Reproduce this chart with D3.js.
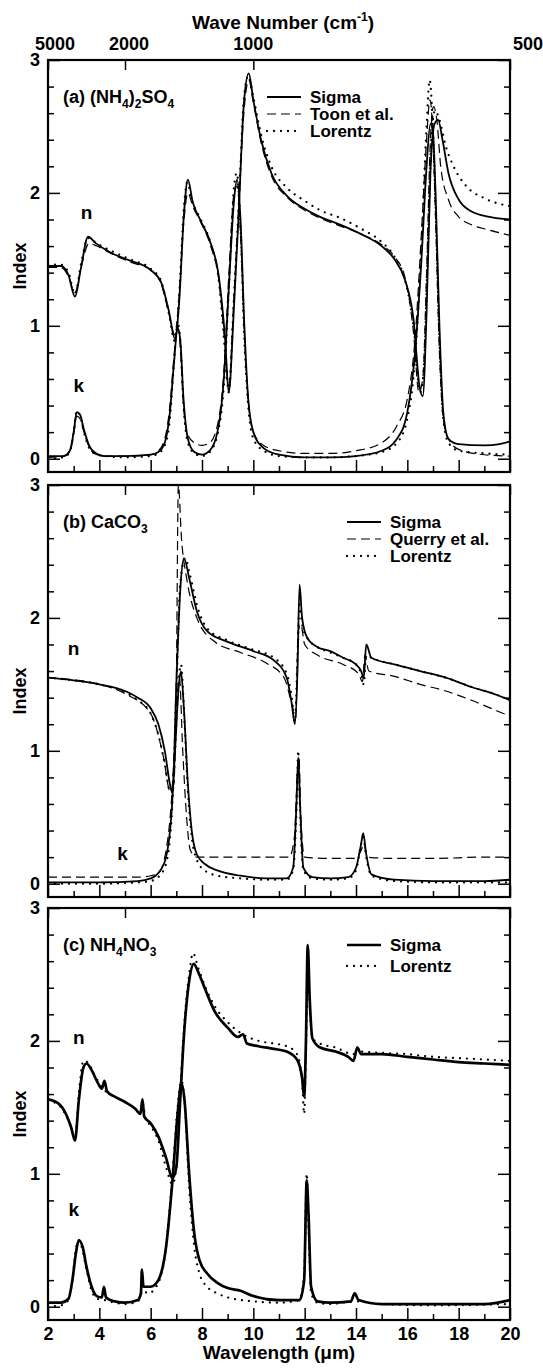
<!DOCTYPE html>
<html>
<head>
<meta charset="utf-8">
<script src="https://cdn.jsdelivr.net/npm/d3@7"></script>
<style>
  body { margin: 0; background: #fff; }
  text { font-family: "Liberation Sans", Arial, Helvetica, sans-serif; font-weight: bold; fill: #000; }
</style>
</head>
<body>
<svg id="chart" width="543" height="1369"></svg>
<script>
// ---- data: [wavelength (um), index] ----

// (a) (NH4)2SO4
var sulfSigmaN = [[2,1.45],[2.5,1.45],[2.8,1.38],[3.05,1.22],[3.28,1.43],[3.56,1.67],[3.87,1.62],[4.45,1.55],[5.2,1.49],[6,1.42],[6.4,1.33],[6.7,1.12],[6.95,0.9],[7.1,1.15],[7.3,1.85],[7.45,2.1],[7.64,1.93],[7.95,1.79],[8.34,1.62],[8.65,1.38],[8.9,0.9],[9.04,0.5],[9.24,1.12],[9.43,1.85],[9.63,2.67],[9.82,2.9],[10,2.7],[10.3,2.4],[10.7,2.15],[11.3,1.98],[12,1.88],[12.6,1.82],[13.4,1.76],[14.2,1.69],[15,1.6],[15.5,1.5],[15.9,1.35],[16.24,1.05],[16.47,0.55],[16.6,0.47],[16.75,1.1],[16.9,2.15],[17.06,2.52],[17.2,2.55],[17.37,2.4],[17.6,2.15],[18,1.95],[18.5,1.86],[19.2,1.82],[20,1.8]];
var sulfToonN = [[2,1.44],[2.5,1.44],[2.8,1.37],[3.05,1.25],[3.3,1.45],[3.6,1.62],[3.9,1.6],[4.5,1.54],[5.2,1.48],[6,1.42],[6.4,1.32],[6.7,1.1],[6.95,0.93],[7.1,1.2],[7.3,1.8],[7.45,2.0],[7.64,1.9],[7.95,1.78],[8.34,1.6],[8.65,1.35],[8.9,0.85],[9.04,0.55],[9.24,1.2],[9.43,1.9],[9.63,2.6],[9.82,2.85],[10,2.68],[10.3,2.38],[10.7,2.13],[11.3,1.97],[12,1.87],[12.6,1.81],[13.4,1.75],[14.2,1.69],[15,1.61],[15.5,1.52],[15.9,1.37],[16.24,0.95],[16.45,0.5],[16.6,0.6],[16.75,1.4],[16.9,2.4],[17.02,2.65],[17.15,2.55],[17.3,2.2],[17.6,1.95],[18,1.82],[18.5,1.76],[19.2,1.72],[20,1.68]];
var sulfLorentzN = [[2,1.46],[2.5,1.46],[2.8,1.4],[3.05,1.24],[3.3,1.48],[3.56,1.66],[3.9,1.62],[4.5,1.56],[5.2,1.5],[6,1.43],[6.4,1.34],[6.7,1.1],[6.95,0.88],[7.1,1.2],[7.3,1.9],[7.42,2.08],[7.6,1.95],[7.95,1.8],[8.34,1.62],[8.65,1.35],[8.9,0.8],[9.04,0.5],[9.24,1.2],[9.43,1.9],[9.63,2.7],[9.8,2.88],[10,2.72],[10.3,2.44],[10.7,2.2],[11.3,2.04],[12,1.94],[12.6,1.87],[13.4,1.81],[14.2,1.73],[15,1.63],[15.5,1.52],[15.9,1.35],[16.24,1.0],[16.5,0.5],[16.65,0.7],[16.8,1.6],[16.95,2.45],[17.08,2.62],[17.25,2.55],[17.5,2.35],[17.8,2.2],[18.3,2.05],[19,1.96],[20,1.9]];
var sulfSigmaK = [[2,0.02],[2.6,0.02],[2.85,0.06],[3,0.2],[3.12,0.35],[3.25,0.33],[3.4,0.22],[3.6,0.1],[3.8,0.05],[4.2,0.02],[5,0.02],[6,0.03],[6.3,0.05],[6.55,0.12],[6.75,0.35],[6.9,0.7],[7.05,0.98],[7.15,0.9],[7.28,0.45],[7.45,0.15],[7.7,0.05],[8,0.03],[8.3,0.06],[8.6,0.2],[8.85,0.6],[9.05,1.3],[9.25,1.95],[9.37,2.1],[9.5,1.8],[9.65,1.0],[9.8,0.45],[10,0.2],[10.4,0.08],[11,0.03],[12,0.01],[13,0.01],[14,0.02],[15,0.06],[15.6,0.15],[16,0.35],[16.3,0.8],[16.55,1.5],[16.75,2.2],[16.9,2.52],[17,2.45],[17.1,2.0],[17.25,1.0],[17.4,0.35],[17.6,0.15],[18,0.11],[19,0.1],[19.6,0.11],[20,0.13]];
var sulfToonK = [[2,0.01],[2.6,0.02],[2.85,0.05],[3,0.18],[3.12,0.32],[3.25,0.3],[3.4,0.2],[3.6,0.09],[3.8,0.04],[4.2,0.02],[5,0.02],[6,0.03],[6.3,0.06],[6.55,0.15],[6.75,0.4],[6.9,0.75],[7.05,1.0],[7.15,0.85],[7.28,0.4],[7.45,0.18],[7.7,0.12],[8,0.1],[8.3,0.12],[8.6,0.25],[8.85,0.65],[9.05,1.4],[9.25,2.0],[9.37,2.05],[9.5,1.7],[9.65,0.95],[9.8,0.45],[10,0.2],[10.4,0.1],[11,0.06],[12,0.04],[13,0.04],[14,0.06],[15,0.12],[15.6,0.25],[16,0.45],[16.3,0.9],[16.55,1.7],[16.75,2.4],[16.88,2.7],[16.98,2.5],[17.1,1.8],[17.25,0.8],[17.4,0.3],[17.6,0.15],[18,0.07],[19,0.03],[20,0.02]];
var sulfLorentzK = [[2,0],[2.6,0.01],[2.85,0.05],[3,0.2],[3.12,0.36],[3.25,0.32],[3.4,0.2],[3.6,0.08],[3.8,0.04],[4.2,0.02],[5,0.01],[6,0.02],[6.3,0.04],[6.55,0.1],[6.75,0.3],[6.9,0.7],[7.05,1.02],[7.15,0.9],[7.28,0.4],[7.45,0.12],[7.7,0.04],[8,0.02],[8.3,0.05],[8.6,0.18],[8.85,0.55],[9.05,1.3],[9.25,2.05],[9.35,2.15],[9.5,1.75],[9.65,0.9],[9.8,0.4],[10,0.15],[10.4,0.06],[11,0.02],[12,0.01],[13,0.01],[14,0.02],[15,0.05],[15.6,0.12],[16,0.3],[16.3,0.75],[16.55,1.6],[16.75,2.5],[16.87,2.85],[16.97,2.6],[17.1,1.9],[17.25,0.9],[17.4,0.3],[17.6,0.12],[18,0.06],[19,0.04],[20,0.03]];

// (b) CaCO3
var carbSigmaN = [[2,1.55],[3,1.53],[4,1.5],[5,1.45],[5.5,1.4],[6,1.32],[6.3,1.2],[6.55,1.0],[6.75,0.75],[6.85,0.68],[7,1.5],[7.15,2.2],[7.3,2.45],[7.5,2.3],[7.8,2.05],[8.2,1.9],[9,1.82],[10,1.75],[10.8,1.68],[11.3,1.55],[11.5,1.35],[11.62,1.2],[11.72,1.6],[11.8,2.25],[11.9,2.0],[12.1,1.85],[12.5,1.78],[13,1.75],[13.5,1.7],[14,1.65],[14.2,1.6],[14.3,1.55],[14.4,1.8],[14.6,1.7],[15.5,1.65],[16.5,1.6],[17.5,1.55],[18.5,1.48],[19.5,1.42],[20,1.38]];
var carbQuerryN = [[2,1.55],[4,1.5],[5,1.43],[6,1.28],[6.5,0.95],[6.75,0.7],[6.9,0.75],[7,1.5],[7.08,3.0],[7.2,2.6],[7.4,2.3],[7.8,2.0],[8.5,1.82],[9.5,1.74],[10.5,1.66],[11.2,1.55],[11.5,1.35],[11.65,1.25],[11.75,1.9],[11.85,1.95],[12,1.8],[12.5,1.72],[13.5,1.65],[14.1,1.58],[14.25,1.52],[14.35,1.72],[14.5,1.6],[15.5,1.56],[16.5,1.5],[17.5,1.45],[18.5,1.38],[19.5,1.3],[20,1.26]];
var carbLorentzN = [[2,1.55],[3,1.53],[4,1.5],[5,1.44],[5.5,1.38],[6,1.28],[6.3,1.12],[6.55,0.9],[6.75,0.7],[6.85,0.7],[7,1.45],[7.15,2.25],[7.35,2.45],[7.5,2.35],[7.8,2.1],[8.2,1.92],[9,1.83],[10,1.76],[10.8,1.7],[11.3,1.58],[11.5,1.4],[11.62,1.22],[11.72,1.7],[11.8,2.1],[11.9,1.95],[12.1,1.85],[12.5,1.78],[13,1.74],[13.5,1.7],[14,1.65],[14.2,1.58],[14.3,1.5],[14.4,1.72],[14.6,1.7],[15.5,1.65],[16.5,1.6],[17.5,1.55],[18.5,1.48],[19.5,1.42],[20,1.38]];
var carbSigmaK = [[2,0.01],[4,0.01],[5.5,0.02],[6,0.04],[6.3,0.08],[6.6,0.2],[6.8,0.5],[6.95,1.0],[7.1,1.5],[7.18,1.6],[7.3,1.3],[7.45,0.75],[7.6,0.4],[7.8,0.22],[8.1,0.15],[8.6,0.1],[9.5,0.06],[10.5,0.04],[11.3,0.04],[11.55,0.12],[11.68,0.6],[11.75,0.95],[11.82,0.6],[11.95,0.12],[12.3,0.05],[13,0.04],[13.7,0.05],[14.0,0.12],[14.2,0.3],[14.28,0.38],[14.4,0.22],[14.6,0.07],[15.5,0.03],[17,0.02],[19,0.02],[20,0.03]];
var carbQuerryK = [[2,0.05],[4,0.05],[5.5,0.05],[6,0.06],[6.3,0.08],[6.6,0.25],[6.8,0.6],[6.95,1.1],[7.05,1.45],[7.12,1.55],[7.25,1.0],[7.4,0.5],[7.55,0.25],[7.8,0.2],[8.5,0.2],[9.5,0.2],[10.5,0.2],[11.4,0.2],[11.6,0.35],[11.72,0.85],[11.78,0.95],[11.85,0.5],[12,0.2],[13,0.19],[13.9,0.19],[14.2,0.25],[14.3,0.3],[14.45,0.2],[15.5,0.19],[17,0.19],[19,0.2],[20,0.2]];
var carbLorentzK = [[2,0],[4,0],[5.5,0.01],[6,0.02],[6.3,0.05],[6.6,0.15],[6.8,0.45],[6.95,1.0],[7.1,1.55],[7.18,1.65],[7.3,1.3],[7.45,0.7],[7.6,0.35],[7.8,0.18],[8.1,0.1],[8.6,0.06],[9.5,0.04],[10.5,0.03],[11.3,0.03],[11.55,0.1],[11.68,0.55],[11.75,1.0],[11.82,0.55],[11.95,0.1],[12.3,0.04],[13,0.03],[13.7,0.04],[14.0,0.1],[14.2,0.3],[14.28,0.35],[14.4,0.2],[14.6,0.06],[15.5,0.02],[17,0.01],[20,0.01]];

// (c) NH4NO3
var nitrSigmaN = [[2,1.56],[2.4,1.53],[2.7,1.45],[2.9,1.35],[3.05,1.25],[3.2,1.55],[3.38,1.8],[3.5,1.83],[3.7,1.78],[3.9,1.7],[4.1,1.64],[4.2,1.7],[4.3,1.62],[4.6,1.58],[5,1.54],[5.4,1.49],[5.6,1.45],[5.68,1.56],[5.75,1.43],[6,1.38],[6.3,1.28],[6.6,1.12],[6.85,0.97],[7,1.05],[7.15,1.55],[7.3,2.05],[7.5,2.45],[7.68,2.58],[7.85,2.52],[8.1,2.4],[8.5,2.22],[9,2.1],[9.4,2.03],[9.6,2.05],[9.75,1.98],[10.2,1.96],[10.8,1.94],[11.3,1.92],[11.7,1.86],[11.9,1.72],[11.98,1.58],[12.05,2.0],[12.12,2.72],[12.2,2.3],[12.3,2.02],[12.6,1.95],[13.2,1.92],[13.7,1.88],[13.9,1.85],[14.05,1.95],[14.2,1.9],[15,1.9],[16,1.88],[17,1.86],[18,1.84],[19,1.83],[20,1.82]];
var nitrLorentzN = [[2,1.55],[2.4,1.52],[2.7,1.44],[2.9,1.35],[3.05,1.26],[3.2,1.6],[3.38,1.85],[3.55,1.84],[3.8,1.75],[4.1,1.65],[4.6,1.58],[5,1.54],[5.4,1.49],[5.6,1.46],[5.7,1.52],[5.8,1.42],[6,1.36],[6.3,1.25],[6.6,1.05],[6.85,0.92],[7,1.05],[7.15,1.6],[7.3,2.1],[7.5,2.5],[7.65,2.66],[7.85,2.55],[8.1,2.42],[8.5,2.26],[9,2.14],[9.5,2.06],[10.2,2.0],[10.8,1.98],[11.3,1.96],[11.7,1.9],[11.9,1.7],[11.98,1.45],[12.05,1.9],[12.12,2.6],[12.2,2.25],[12.3,2.02],[12.6,1.98],[13.2,1.95],[13.9,1.9],[14.05,1.95],[14.2,1.92],[15,1.91],[16,1.9],[17,1.88],[18,1.87],[19,1.86],[20,1.85]];
var nitrSigmaK = [[2,0.03],[2.5,0.03],[2.8,0.06],[2.95,0.2],[3.1,0.42],[3.2,0.5],[3.35,0.45],[3.5,0.3],[3.7,0.15],[3.9,0.08],[4.1,0.07],[4.18,0.15],[4.26,0.07],[4.6,0.04],[5,0.03],[5.5,0.05],[5.62,0.1],[5.66,0.28],[5.72,0.15],[6,0.15],[6.3,0.2],[6.6,0.45],[6.85,0.95],[7.05,1.45],[7.2,1.68],[7.32,1.55],[7.5,1.0],[7.7,0.55],[7.9,0.35],[8.2,0.25],[8.6,0.18],[9,0.14],[9.5,0.12],[10,0.08],[11,0.05],[11.8,0.05],[11.98,0.2],[12.08,0.95],[12.15,0.7],[12.25,0.15],[12.5,0.04],[13,0.03],[13.8,0.04],[13.95,0.1],[14.1,0.05],[15,0.02],[17,0.02],[19,0.02],[20,0.05]];
var nitrLorentzK = [[2,0],[2.5,0.01],[2.8,0.05],[2.95,0.2],[3.1,0.45],[3.2,0.5],[3.35,0.42],[3.5,0.28],[3.7,0.12],[3.9,0.06],[4.2,0.05],[4.6,0.03],[5,0.02],[5.5,0.04],[5.7,0.12],[5.9,0.1],[6.3,0.18],[6.6,0.45],[6.85,1.0],[7.05,1.5],[7.2,1.7],[7.32,1.55],[7.5,0.9],[7.7,0.45],[7.9,0.25],[8.2,0.15],[8.6,0.1],[9,0.07],[9.5,0.05],[10,0.04],[11,0.03],[11.8,0.05],[11.98,0.25],[12.08,1.0],[12.15,0.6],[12.25,0.1],[12.5,0.03],[13,0.02],[14,0.04],[15,0.02],[17,0.01],[20,0.02]];

// axis ticks
var wavelengthTicks = [2, 4, 6, 8, 10, 12, 14, 16, 18, 20];
var wavelengthMinor = [3, 5, 7, 9, 11, 13, 15, 17, 19];
var waveNumbers = [5000, 2000, 1000, 500];
var indexTicks = [0, 1, 2, 3];
var indexMinor = [0.2, 0.4, 0.6, 0.8, 1.2, 1.4, 1.6, 1.8, 2.2, 2.4, 2.6, 2.8];

// panel labels & n/k labels [text, wavelength, index]
var panelNames = [["(a) (NH", "4", ")", "2", "SO", "4"], ["(b) CaCO", "3"], ["(c) NH", "4", "NO", "3"]];
var nkLabels = [
  [["n", 3.5, 1.8], ["k", 3.2, 0.5]],
  [["n", 3.0, 1.72], ["k", 4.9, 0.18]],
  [["n", 3.2, 1.98], ["k", 3.0, 0.68]]
];

var styles = {
  sigma:   { dash: null,  width: 1.8, cap: "butt" },
  sigmaC:  { dash: null,  width: 2.7, cap: "butt" },
  dashed:  { dash: "9,5", width: 1.2, cap: "butt" },
  dotted:  { dash: "0,7", width: 2.3, cap: "round" }
};

var panels = [
  { top: 60,  legendX: 267, series: [
      { name: "Sigma", n: sulfSigmaN, k: sulfSigmaK, style: "sigma" },
      { name: "Toon et al.", n: sulfToonN, k: sulfToonK, style: "dashed" },
      { name: "Lorentz", n: sulfLorentzN, k: sulfLorentzK, style: "dotted" }] },
  { top: 485, legendX: 347, series: [
      { name: "Sigma", n: carbSigmaN, k: carbSigmaK, style: "sigma" },
      { name: "Querry et al.", n: carbQuerryN, k: carbQuerryK, style: "dashed" },
      { name: "Lorentz", n: carbLorentzN, k: carbLorentzK, style: "dotted" }] },
  { top: 908, legendX: 347, legendGap: 21, series: [
      { name: "Sigma", n: nitrSigmaN, k: nitrSigmaK, style: "sigmaC" },
      { name: "Lorentz", n: nitrLorentzN, k: nitrLorentzK, style: "dotted" }] }
];

var svg = d3.select("#chart");
var left = 48, right = 510, panelH = 412;
var x = d3.scaleLinear().domain([2, 20]).range([left, right]);

function applyStyle(sel, st) {
  sel.attr("fill", "none").attr("stroke", "#000")
    .attr("stroke-width", st.width)
    .attr("stroke-linecap", st.cap)
    .attr("stroke-dasharray", st.dash);
}

panels.forEach(function(p, pi) {
  var y = d3.scaleLinear().domain([-0.1, 3]).range([p.top + panelH, p.top]);
  var g = svg.append("g");

  g.append("clipPath").attr("id", "clip" + pi)
    .append("rect").attr("x", left).attr("y", p.top)
    .attr("width", right - left).attr("height", panelH);

  var line = d3.line()
    .x(function(d) { return x(d[0]); })
    .y(function(d) { return y(d[1]); })
    .curve(d3.curveMonotoneX);

  var plot = g.append("g").attr("clip-path", "url(#clip" + pi + ")");
  p.series.slice().reverse().forEach(function(s) {
    [s.n, s.k].forEach(function(arr) {
      plot.append("path").attr("d", line(arr)).call(applyStyle, styles[s.style]);
    });
  });

  // axes (ticks point inward)
  g.append("g").attr("transform", "translate(" + left + ",0)")
    .call(d3.axisLeft(y).tickValues(indexTicks).tickSizeInner(-12).tickSizeOuter(0).tickPadding(8).tickFormat(d3.format("d")));
  g.append("g").attr("transform", "translate(" + left + ",0)")
    .call(d3.axisLeft(y).tickValues(indexMinor).tickSizeInner(-6).tickSizeOuter(0).tickFormat(""));
  g.append("g").attr("transform", "translate(" + right + ",0)")
    .call(d3.axisRight(y).tickValues(indexTicks).tickSizeInner(-12).tickSizeOuter(0).tickFormat(""));
  g.append("g").attr("transform", "translate(" + right + ",0)")
    .call(d3.axisRight(y).tickValues(indexMinor).tickSizeInner(-6).tickSizeOuter(0).tickFormat(""));
  var yb = p.top + panelH;
  g.append("g").attr("transform", "translate(0," + yb + ")")
    .call(d3.axisBottom(x).tickValues(wavelengthTicks).tickSizeInner(-12).tickSizeOuter(0).tickPadding(7)
      .tickFormat(pi === 2 ? d3.format("d") : ""));
  g.append("g").attr("transform", "translate(0," + yb + ")")
    .call(d3.axisBottom(x).tickValues(wavelengthMinor).tickSizeInner(-6).tickSizeOuter(0).tickFormat(""));
  g.append("g").attr("transform", "translate(0," + p.top + ")")
    .call(d3.axisTop(x).tickValues(waveNumbers.map(function(w) { return 1e4 / w; }))
      .tickSizeInner(-10).tickSizeOuter(0).tickFormat(""));

  g.selectAll(".domain").remove();
  g.selectAll(".tick line").attr("stroke", "#000").attr("stroke-width", 1.5);
  g.selectAll(".tick text").attr("font-size", 18).attr("fill", "#000")
    .style("font-family", "'Liberation Sans', Arial, sans-serif").style("font-weight", "bold");

  g.append("rect").attr("x", left).attr("y", p.top)
    .attr("width", right - left).attr("height", panelH)
    .attr("fill", "none").attr("stroke", "#000").attr("stroke-width", 2.2);

  // panel name with subscripts
  var name = g.append("text").attr("x", 63).attr("y", p.top + 43).attr("font-size", 18);
  panelNames[pi].forEach(function(part, j) {
    var sub = j % 2 === 1;
    name.append("tspan").text(part)
      .attr("font-size", sub ? 12 : 18)
      .attr("dy", sub ? 5 : (j > 0 ? -5 : 0));
  });

  // n / k labels
  nkLabels[pi].forEach(function(l) {
    g.append("text").attr("x", x(l[1])).attr("y", y(l[2]))
      .attr("text-anchor", "middle").attr("font-size", 19).text(l[0]);
  });

  // legend
  var gap = p.legendGap || 17;
  p.series.forEach(function(s, i) {
    var ly = p.top + 37 + i * gap;
    g.append("line").attr("x1", p.legendX).attr("x2", p.legendX + 34)
      .attr("y1", ly).attr("y2", ly).call(applyStyle, styles[s.style]);
    g.append("text").attr("x", p.legendX + 43).attr("y", ly + 6)
      .attr("font-size", 17).text(s.name);
  });

  // y title
  g.append("text").attr("transform", "translate(26," + (p.top + panelH / 2) + ") rotate(-90)")
    .attr("text-anchor", "middle").attr("font-size", 18).text("Index");
});

// top wave-number scale
var wnOffsets = [7, 4, 0, 18];
svg.selectAll(".wn").data(waveNumbers).enter().append("text")
  .attr("x", function(d, i) { return x(1e4 / d) + wnOffsets[i]; })
  .attr("y", 50).attr("text-anchor", "middle").attr("font-size", 18)
  .text(function(d) { return d; });

var wt = svg.append("text").attr("x", 283).attr("y", 29).attr("text-anchor", "middle").attr("font-size", 19);
wt.append("tspan").text("Wave Number (cm");
wt.append("tspan").attr("font-size", 12).attr("dy", -8).text("-1");
wt.append("tspan").attr("dy", 8).text(")");

// bottom title
svg.append("text").attr("x", 279).attr("y", 1359).attr("text-anchor", "middle")
  .attr("font-size", 19).text("Wavelength (\u03bcm)");
</script>
</body>
</html>
